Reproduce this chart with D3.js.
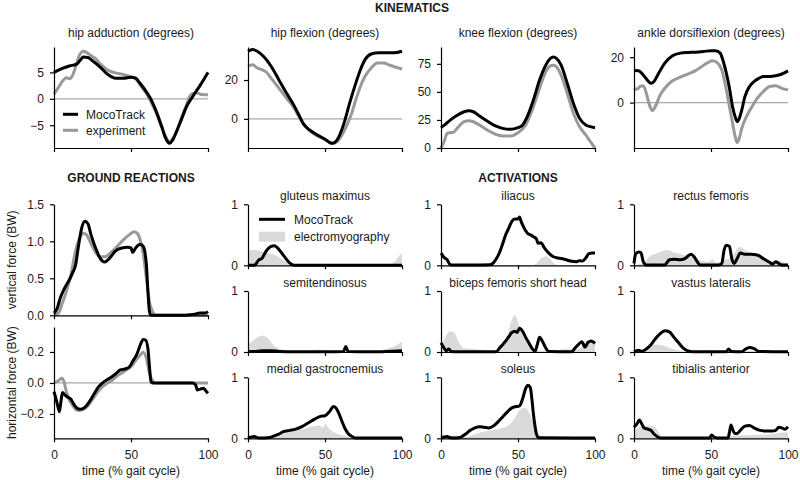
<!DOCTYPE html>
<html><head><meta charset="utf-8">
<script src="https://cdn.jsdelivr.net/npm/d3@7"></script>
<style>
body{margin:0;background:#fff;}
svg{display:block;font-family:"Liberation Sans",Arial,Helvetica,sans-serif;}
</style></head><body>
<svg id="chart" width="800" height="480"></svg>
<script>
// ---------------- DATA ----------------
const gaitTicks = [0, 50, 100];
const seriesNames = ["MocoTrack", "experiment"];
const actLegendNames = ["MocoTrack", "electromyography"];
const xLabel = "time (% gait cycle)";

// Kinematics
const hipAddTicks = [-5, 0, 5];
const hipAddMoco = [[0,5.0],[5,5.7],[10,6.2],[15,6.6],[17,7.3],[19,7.9],[22,7.8],[25,7.2],[30,6.0],[35,4.6],[40,3.9],[45,3.9],[50,4.1],[53,3.9],[56,2.9],[60,1.3],[63,-0.1],[66,-2.1],[70,-5.3],[72,-7.1],[74,-8.2],[75,-8.4],[77,-7.8],[80,-5.9],[83,-3.7],[86,-1.5],[90,0.4],[95,2.6],[100,5.0]];
const hipAddExp = [[0,0.9],[3,2.2],[6,3.5],[8,4.0],[10,3.8],[12,4.4],[14,6.0],[16,7.9],[19,9.0],[21,8.8],[24,8.2],[27,7.6],[30,6.6],[35,5.4],[40,4.9],[45,4.6],[50,4.2],[53,3.8],[56,2.6],[60,1.0],[63,-0.6],[66,-2.4],[70,-5.4],[73,-7.4],[75,-8.1],[77,-7.6],[80,-5.8],[83,-3.4],[86,-1.2],[88,0.4],[90,1.0],[93,1.1],[96,0.8],[100,0.75]];

const hipFlexTicks = [0, 20];
const hipFlexMoco = [[0,34.8],[3,35.7],[6,34.8],[10,32.2],[15,27.1],[20,20.2],[25,13.3],[30,6.7],[33,2.1],[36,-2.6],[40,-5.7],[45,-8.3],[50,-10.5],[53,-12.2],[55,-12.6],[57,-11.7],[60,-7.4],[63,-0.5],[66,8.1],[70,18.4],[73,25.3],[76,30.5],[80,33.4],[85,34.0],[90,34.0],[95,34.0],[100,34.8]];
const hipFlexExp = [[0,27.1],[3,27.9],[6,26.2],[9,25.3],[12,24.0],[15,21.0],[20,15.9],[25,10.7],[30,5.5],[33,1.2],[36,-2.6],[40,-6.2],[45,-8.8],[50,-10.5],[55,-12.6],[58,-11.7],[61,-8.3],[64,-3.6],[67,2.1],[70,9.8],[73,16.7],[76,21.9],[80,26.2],[84,28.8],[88,28.8],[92,27.6],[96,26.6],[100,25.7]];

const kneeTicks = [0, 25, 50, 75];
const kneeMoco = [[0,18.1],[3,21.3],[6,24.9],[10,28.8],[15,32.3],[18,33.2],[21,32.3],[25,28.5],[30,24.0],[35,19.9],[40,17.5],[45,16.6],[50,18.1],[53,20.5],[56,27.9],[60,42.7],[64,60.5],[68,73.8],[71,79.8],[73,81.2],[75,79.8],[78,73.8],[82,57.5],[86,39.7],[90,26.4],[94,20.5],[97,19.0],[100,18.1]];
const kneeExp = [[0,0],[2,5.6],[4,13.0],[6,13.6],[8,13.9],[11,18.4],[15,23.4],[18,24.3],[21,23.4],[25,20.5],[30,16.0],[35,12.5],[40,10.7],[45,10.7],[50,13.6],[55,20.5],[60,36.8],[64,53.1],[68,67.9],[71,73.2],[73,73.8],[75,72.3],[78,64.9],[82,48.6],[86,30.8],[90,19.0],[94,11.6],[97,5.6],[100,0]];

const ankleTicks = [0, 20];
const ankleMoco = [[0,14.1],[3,14.0],[6,12.2],[9,9.6],[11,8.5],[13,9.3],[16,12.9],[20,17.4],[25,20.6],[30,21.8],[35,22.1],[40,22.2],[45,22.5],[50,22.9],[53,22.9],[56,21.8],[58,18.1],[60,12.9],[62,6.3],[64,-1.8],[66,-6.9],[67,-8.4],[68,-7.6],[70,-3.2],[72,2.6],[75,7.1],[78,9.3],[81,10.7],[84,11.5],[88,11.5],[92,11.8],[96,12.6],[100,14.0]];
const ankleExp = [[0,6.3],[2,5.9],[4,7.1],[6,7.4],[8,4.1],[10,-1.0],[12,-3.5],[14,-1.5],[17,3.4],[20,6.3],[25,9.6],[30,11.2],[35,12.6],[40,14.1],[44,15.9],[48,17.6],[51,18.4],[54,17.6],[57,14.4],[60,5.6],[62,-1.8],[64,-9.1],[66,-15.7],[67,-17.6],[68,-16.5],[70,-11.3],[73,-6.2],[76,-2.5],[80,1.9],[84,4.9],[88,7.1],[92,7.4],[96,6.3],[100,5.6]];

// Ground reactions
const vertTicks = [0, 0.5, 1.0, 1.5];
const vertMoco = [[0,0.03],[2,0.09],[4,0.23],[6,0.33],[8,0.41],[10,0.48],[12,0.57],[14,0.68],[16,0.95],[18,1.18],[20,1.27],[22,1.24],[24,1.09],[27,0.91],[30,0.77],[33,0.72],[36,0.77],[40,0.87],[44,0.91],[48,0.92],[50,0.91],[51,0.85],[53,0.91],[56,0.96],[58,0.93],[60,0.68],[61,0.32],[62,0.05],[63,0],[70,0],[85,0],[90,0.01],[95,0.03],[98,0.03],[100,0.05]];
const vertExp = [[0,0],[3,0.03],[5,0.14],[8,0.32],[11,0.55],[13,0.77],[15,0.95],[17,1.06],[19,1.11],[21,1.09],[24,0.97],[27,0.85],[30,0.79],[33,0.79],[37,0.85],[41,0.93],[45,1.02],[49,1.09],[52,1.13],[54,1.11],[56,1.02],[58,0.82],[60,0.50],[62,0.18],[64,0.05],[66,0],[100,0]];

const horizTicks = [-0.2, 0.0, 0.2];
const horizMoco = [[0,-0.056],[1.5,-0.11],[3,-0.17],[3.5,-0.185],[4.5,-0.12],[5.5,-0.062],[7,-0.077],[9,-0.092],[11,-0.105],[13,-0.14],[15,-0.163],[17,-0.17],[20,-0.157],[23,-0.12],[26,-0.071],[29,-0.024],[32,0.004],[36,0.03],[40,0.058],[43,0.084],[46,0.09],[49,0.105],[51,0.138],[54,0.19],[56,0.245],[58,0.28],[59.5,0.277],[61,0.22],[62,0.105],[63,0.009],[64,0],[90,0],[92,-0.013],[93,-0.045],[95,-0.04],[97,-0.034],[98.5,-0.05],[100,-0.067]];
const horizExp = [[0,0],[2,0.009],[4,0.024],[5,0.03],[6.5,0.009],[8,-0.056],[10,-0.11],[12,-0.142],[14,-0.17],[16,-0.178],[18,-0.174],[21,-0.157],[24,-0.12],[27,-0.077],[30,-0.039],[34,-0.006],[38,0.019],[42,0.052],[46,0.077],[50,0.105],[53,0.144],[56,0.18],[58,0.198],[60,0.159],[62,0.062],[64,0.015],[66,0],[100,0]];

// Activations
const actTicks = [0, 1];
const glutMaxMoco = [[0,0],[4,0],[5,0.016],[7,0.09],[9,0.11],[11,0.2],[13,0.27],[15,0.31],[17,0.32],[19,0.29],[21,0.23],[24,0.13],[27,0.04],[30,0],[100,0]];
const glutMaxEmg = [[0,0.22],[2,0.25],[5,0.25],[8,0.23],[10,0.22],[13,0.2],[16,0.18],[19,0.15],[22,0.1],[25,0.05],[28,0.02],[32,0.01],[50,0.005],[90,0.005],[95,0.05],[97,0.12],[100,0.2]];

const semitenMoco = [[0,0.01],[5,0.01],[10,0.02],[15,0.02],[20,0.01],[30,0.005],[50,0.005],[62,0.01],[63.5,0.09],[65,0.01],[80,0.005],[90,0.01],[100,0.02]];
const semitenEmg = [[0,0.12],[3,0.18],[5,0.22],[7,0.25],[9,0.27],[11,0.26],[13,0.22],[15,0.16],[18,0.08],[22,0.04],[30,0.02],[40,0.02],[45,0.04],[50,0.03],[55,0.02],[70,0.02],[80,0.02],[88,0.04],[94,0.08],[100,0.17]];

const medGasMoco = [[0,0.005],[4,0.03],[7,0.005],[14,0.015],[17,0.04],[20,0.07],[23,0.11],[27,0.13],[31,0.15],[35,0.19],[39,0.25],[43,0.31],[47,0.36],[50,0.37],[53,0.44],[55.5,0.52],[57,0.5],[59,0.41],[61,0.28],[63,0.16],[65,0.08],[67,0.04],[69,0.01],[70,0.005],[100,0.005]];
const medGasEmg = [[0,0.005],[15,0.005],[18,0.02],[22,0.06],[27,0.1],[32,0.13],[38,0.17],[43,0.2],[46,0.21],[49,0.18],[50,0.24],[51,0.22],[53,0.15],[56,0.1],[60,0.06],[63,0.04],[66,0.02],[70,0.005],[100,0.005]];

const iliacusMoco = [[0,0.2],[2,0.13],[4,0.09],[6,0.01],[8,0.005],[20,0.005],[32,0.01],[34,0.04],[36,0.11],[38,0.21],[40,0.35],[42,0.5],[44,0.61],[46,0.72],[48,0.76],[50,0.76],[51,0.79],[52,0.72],[54,0.61],[56,0.53],[58,0.5],[60,0.47],[62,0.43],[63,0.36],[65,0.37],[67,0.29],[70,0.2],[73,0.14],[76,0.12],[80,0.1],[84,0.07],[88,0.06],[90,0.075],[92,0.07],[94,0.12],[96,0.19],[98,0.2],[100,0.2]];
const iliacusEmg = [[0,0.005],[60,0.005],[62,0.03],[64,0.09],[66,0.13],[68,0.15],[70,0.13],[72,0.07],[74,0.02],[76,0.005],[100,0.005]];

const bicepsMoco = [[0,0.15],[2,0.065],[3.5,0.02],[5,0.05],[6.5,0.01],[10,0.005],[36,0.005],[38,0.065],[40,0.12],[42,0.18],[44,0.25],[46,0.32],[48,0.34],[49.5,0.32],[51,0.39],[53,0.34],[55,0.24],[57,0.15],[59,0.065],[61,0.01],[62.5,0.12],[64,0.24],[66,0.17],[68,0.065],[70,0.01],[85,0.005],[87,0.065],[89.5,0.13],[91.5,0.17],[93.5,0.08],[95.5,0.16],[97.5,0.18],[100,0.14]];
const bicepsEmg = [[0,0.1],[2,0.2],[4,0.3],[6,0.34],[8,0.33],[10,0.25],[12,0.14],[15,0.06],[20,0.05],[25,0.04],[30,0.02],[35,0.02],[40,0.08],[43,0.25],[45,0.45],[47,0.58],[48,0.6],[50,0.5],[52,0.35],[55,0.2],[58,0.08],[60,0.03],[70,0.02],[75,0.02],[80,0.05],[85,0.04],[90,0.06],[95,0.18],[100,0.2]];

const soleusMoco = [[0,0.005],[2,0.02],[4,0.03],[6,0.01],[10,0.005],[13,0.02],[16,0.07],[19,0.13],[22,0.17],[25,0.19],[28,0.18],[31,0.17],[34,0.2],[37,0.27],[40,0.35],[43,0.43],[46,0.5],[49,0.52],[51,0.53],[53,0.65],[55,0.82],[56.5,0.87],[58,0.83],[59,0.65],[60,0.4],[61,0.21],[62,0.07],[63.5,0.01],[100,0.005]];
const soleusEmg = [[0,0.005],[4,0.02],[7,0.04],[10,0.05],[13,0.03],[16,0.02],[20,0.05],[25,0.09],[30,0.12],[35,0.14],[40,0.17],[44,0.22],[47,0.3],[50,0.42],[52,0.48],[54,0.5],[56,0.47],[58,0.38],[60,0.25],[62,0.1],[64,0.03],[66,0.005],[90,0.005],[95,0.02],[100,0.01]];

const rectFemMoco = [[0,0.03],[1,0.18],[3,0.22],[4.5,0.21],[6,0.06],[8,0.005],[20,0.005],[21,0.03],[23,0.09],[26,0.1],[30,0.09],[33,0.11],[36,0.17],[37,0.18],[39,0.14],[41,0.06],[43,0.005],[55,0.005],[57,0.03],[58.5,0.25],[60,0.33],[62,0.31],[63.5,0.11],[65,0.03],[67,0.11],[69,0.2],[72,0.18],[76,0.18],[80,0.17],[84,0.11],[88,0.05],[90,0.02],[92,0.06],[94,0.03],[96,0.005],[100,0.005]];
const rectFemEmg = [[0,0.01],[5,0.02],[8,0.08],[10,0.14],[13,0.18],[16,0.21],[19,0.24],[22,0.25],[25,0.22],[28,0.2],[32,0.17],[36,0.15],[40,0.11],[44,0.07],[48,0.06],[51,0.1],[53,0.05],[56,0.06],[60,0.1],[64,0.15],[67,0.27],[69,0.3],[72,0.25],[76,0.2],[80,0.15],[85,0.08],[90,0.06],[94,0.08],[97,0.05],[100,0.03]];

const vastLatMoco = [[0,0.005],[3,0.03],[5,0.01],[8,0.05],[11,0.12],[14,0.22],[17,0.3],[20,0.35],[23,0.33],[26,0.24],[29,0.15],[32,0.065],[35,0.02],[38,0.005],[60,0.005],[61.5,0.05],[63,0.01],[70,0.005],[72,0.04],[75,0.075],[78,0.055],[81,0.01],[100,0.005]];
const vastLatEmg = [[0,0.01],[5,0.04],[10,0.08],[13,0.12],[16,0.12],[20,0.1],[24,0.06],[28,0.03],[33,0.01],[45,0.01],[48,0.03],[52,0.02],[58,0.02],[62,0.01],[70,0.01],[75,0.02],[85,0.01],[100,0.01]];

const tibAntMoco = [[0,0.18],[2,0.24],[3.5,0.3],[5,0.24],[6.5,0.17],[9,0.15],[11,0.13],[13,0.07],[15,0.03],[17,0.005],[49,0.005],[50.5,0.055],[52,0.02],[54,0.005],[61,0.005],[62,0.1],[63,0.22],[64,0.15],[65.5,0.08],[67,0.08],[69,0.13],[72,0.2],[75,0.21],[78,0.17],[82,0.13],[86,0.12],[90,0.12],[92,0.13],[94,0.18],[96,0.17],[98,0.15],[100,0.19]];
const tibAntEmg = [[0,0.12],[3,0.18],[6,0.2],[9,0.21],[12,0.2],[14,0.17],[16,0.1],[18,0.03],[20,0.005],[60,0.005],[62,0.03],[65,0.05],[70,0.05],[75,0.05],[80,0.06],[85,0.06],[90,0.07],[95,0.09],[100,0.1]];

// ---------------- DRAWING ----------------
const svg = d3.select("#chart");
const LEFTS = [54, 248, 441, 634], W = 154;
const BLACK = "#000", GRAY = "#999999", EMGC = "#dadada", ZEROC = "#a8a8a8", TXT = "#1a1a1a";
const FS = 12;
const fInt = d3.format("d"), f1 = d3.format(".1f");

function panel(o) {
  const g = svg.append("g");
  const x = d3.scaleLinear().domain([0, 100]).range([o.left, o.left + W]);
  const y = d3.scaleLinear().domain(o.ydom).range([o.bottom, o.top]);
  if (o.zero) {
    g.append("line").attr("x1", x(0)).attr("x2", x(100)).attr("y1", y(0)).attr("y2", y(0))
      .attr("stroke", ZEROC).attr("stroke-width", 1.2);
  }
  (o.fills || []).forEach(d => {
    g.append("path").datum(d)
      .attr("d", d3.area().x(p => x(p[0])).y0(y(0)).y1(p => y(p[1])).curve(d3.curveMonotoneX))
      .attr("fill", EMGC);
  });
  (o.lines || []).forEach(([d, c]) => {
    g.append("path").datum(d)
      .attr("d", d3.line().x(p => x(p[0])).y(p => y(p[1])).curve(d3.curveMonotoneX))
      .attr("fill", "none").attr("stroke", c).attr("stroke-width", 3)
      .attr("stroke-linejoin", "round");
  });
  const xa = d3.axisBottom(x).tickValues(gaitTicks).tickSize(4).tickSizeOuter(0).tickPadding(8);
  if (!o.xlabels) xa.tickFormat("");
  const gx = g.append("g").attr("transform", `translate(0,${o.bottom})`).call(xa);
  const ya = d3.axisLeft(y).tickValues(o.yticks).tickFormat(o.yfmt || fInt).tickSize(4).tickSizeOuter(0).tickPadding(6);
  const gy = g.append("g").attr("transform", `translate(${o.left},0)`).call(ya);
  [gx, gy].forEach(a => {
    a.selectAll("path,line").attr("stroke", BLACK).attr("stroke-width", 1.2);
    a.selectAll("text").attr("font-size", FS).attr("fill", TXT).attr("font-family", null);
  });
  if (o.title) {
    g.append("text").attr("x", o.left + W / 2).attr("y", o.top - o.tgap)
      .attr("text-anchor", "middle").attr("font-size", FS).attr("fill", TXT).text(o.title);
  }
  if (o.xlabels) {
    g.append("text").attr("x", o.left + W / 2).attr("y", 475)
      .attr("text-anchor", "middle").attr("font-size", FS).attr("fill", TXT).text(xLabel);
  }
  if (o.ylabel) {
    g.append("text").attr("transform", `translate(16,${(o.top + o.bottom) / 2}) rotate(-90)`)
      .attr("text-anchor", "middle").attr("font-size", FS).attr("fill", TXT).text(o.ylabel);
  }
  return { g, x, y };
}

// Section headings
function heading(txt, cx, yy) {
  svg.append("text").attr("x", cx).attr("y", yy).attr("text-anchor", "middle")
    .attr("font-size", FS).attr("font-weight", "bold").attr("fill", TXT).text(txt);
}
heading("KINEMATICS", 412, 12);
heading("GROUND REACTIONS", LEFTS[0] + W / 2, 182);
heading("ACTIVATIONS", LEFTS[2] + W / 2, 182);

// Kinematics row
const KT = 47, KB = 148;
const kin = [
  { title: "hip adduction (degrees)", ydom: [-9.3, 9.8], yticks: hipAddTicks, moco: hipAddMoco, exp: hipAddExp },
  { title: "hip flexion (degrees)", ydom: [-15, 37], yticks: hipFlexTicks, moco: hipFlexMoco, exp: hipFlexExp },
  { title: "knee flexion (degrees)", ydom: [0, 90], yticks: kneeTicks, moco: kneeMoco, exp: kneeExp },
  { title: "ankle dorsiflexion (degrees)", ydom: [-20, 24.5], yticks: ankleTicks, moco: ankleMoco, exp: ankleExp }
];
kin.forEach((k, i) => {
  panel({ left: LEFTS[i], top: KT, bottom: KB, ydom: k.ydom, yticks: k.yticks, zero: k.ydom[0] < 0,
    lines: [[k.exp, GRAY], [k.moco, BLACK]], title: k.title, tgap: 10 });
});
// kinematics legend
[[BLACK, 114.3], [GRAY, 130.3]].forEach(([c, yy], i) => {
  svg.append("line").attr("x1", 63).attr("x2", 78).attr("y1", yy).attr("y2", yy)
    .attr("stroke", c).attr("stroke-width", 3);
  svg.append("text").attr("x", 86).attr("y", yy + 4.2).attr("font-size", FS).attr("fill", TXT).text(seriesNames[i]);
});

// Ground reactions
panel({ left: LEFTS[0], top: 204.3, bottom: 315.3, ydom: [0, 1.5], yticks: vertTicks, yfmt: f1,
  lines: [[vertExp, GRAY], [vertMoco, BLACK]], ylabel: "vertical force (BW)" });
panel({ left: LEFTS[0], top: 327, bottom: 438.3, ydom: [-0.357, 0.361], yticks: horizTicks, yfmt: f1, zero: true,
  lines: [[horizExp, GRAY], [horizMoco, BLACK]], ylabel: "horizontal force (BW)", xlabels: true });

// Activations grid
const ROWT = [204.3, 291, 377.3], AH = 61;
const acts = [
  ["gluteus maximus", glutMaxMoco, glutMaxEmg], ["iliacus", iliacusMoco, iliacusEmg], ["rectus femoris", rectFemMoco, rectFemEmg],
  ["semitendinosus", semitenMoco, semitenEmg], ["biceps femoris short head", bicepsMoco, bicepsEmg], ["vastus lateralis", vastLatMoco, vastLatEmg],
  ["medial gastrocnemius", medGasMoco, medGasEmg], ["soleus", soleusMoco, soleusEmg], ["tibialis anterior", tibAntMoco, tibAntEmg]
];
acts.forEach((a, i) => {
  const r = Math.floor(i / 3), c = i % 3;
  panel({ left: LEFTS[c + 1], top: ROWT[r], bottom: ROWT[r] + AH, ydom: [0, 1], yticks: actTicks,
    fills: [a[2]], lines: [[a[1], BLACK]], title: a[0], tgap: 4.5, xlabels: r === 2 });
});
// activation legend
svg.append("line").attr("x1", 259).attr("x2", 285).attr("y1", 219.3).attr("y2", 219.3)
  .attr("stroke", BLACK).attr("stroke-width", 3);
svg.append("text").attr("x", 294).attr("y", 223.5).attr("font-size", FS).attr("fill", TXT).text(actLegendNames[0]);
svg.append("rect").attr("x", 259).attr("y", 231.7).attr("width", 26).attr("height", 10).attr("fill", EMGC);
svg.append("text").attr("x", 294).attr("y", 240.7).attr("font-size", FS).attr("fill", TXT).text(actLegendNames[1]);
</script>
</body></html>
